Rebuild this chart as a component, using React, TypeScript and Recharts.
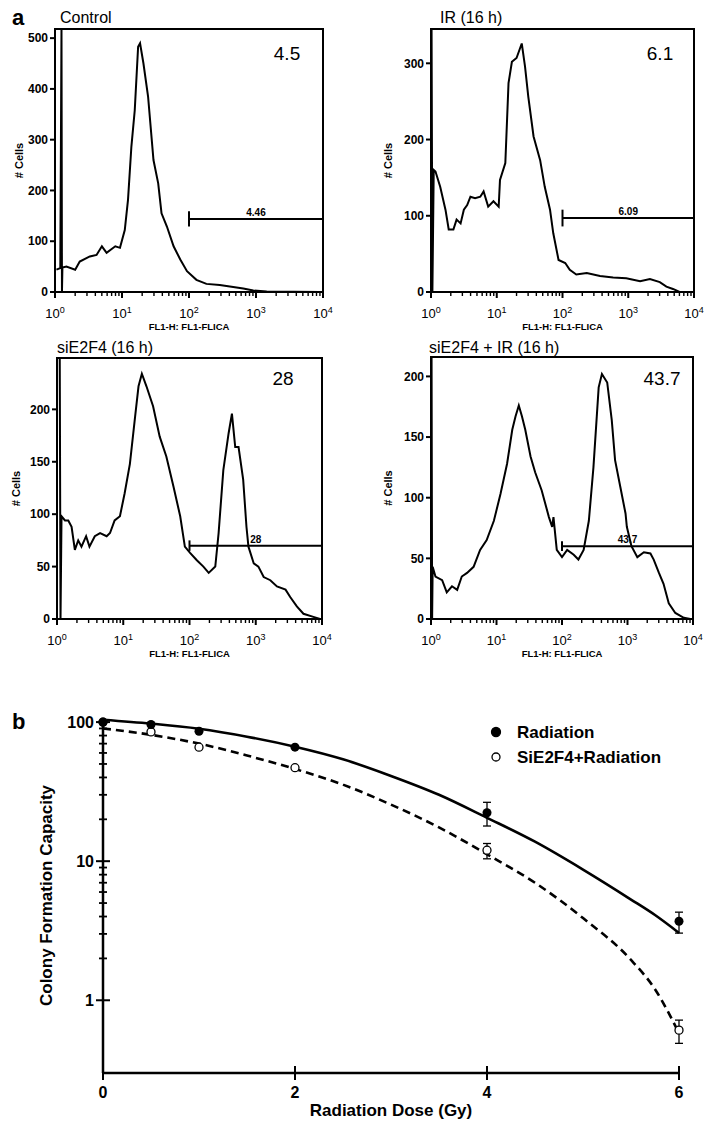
import React from "react";
import {
  LineChart,
  ComposedChart,
  Line,
  Scatter,
  ErrorBar,
  XAxis,
  YAxis,
  ReferenceArea,
  ReferenceLine,
  ReferenceDot,
  Label,
} from "recharts";

const FONT = "'Liberation Sans', Arial, Helvetica, sans-serif";

// ---- panel a: FL1-FLICA histograms (channel value, # cells) ----
const controlChannel = [1.05, 1.2, 1.25, 1.27, 1.29, 1.48, 2.0, 2.34, 3.31, 4.17, 5.01, 5.89, 7.94, 9.33, 11.0, 12.3, 13.8, 15.5, 17.4, 18.6, 20.9, 24.5, 29.5, 34.7, 38.9, 46.8, 58.9, 74.1, 93.3, 129, 182, 288, 457, 646, 912, 1445, 9120];
const controlCells = [44, 47, 518, 0, 48, 50, 44, 60, 70, 73, 90, 77, 90, 87, 122, 182, 286, 358, 483, 490, 450, 385, 260, 214, 155, 129, 90, 64, 41, 24, 16, 14, 10, 7, 3, 1, 0];

const irChannel = [1.02, 1.05, 1.1, 1.17, 1.38, 1.66, 1.86, 2.19, 2.45, 2.82, 3.16, 3.55, 3.98, 4.68, 5.62, 6.31, 7.41, 8.91, 10.7, 11.2, 13.5, 15.1, 17.0, 20.0, 24.0, 26.9, 30.2, 36.3, 45.7, 53.7, 64.6, 72.4, 87.1, 110, 129, 162, 234, 372, 589, 933, 1514, 2138, 3020, 3802, 4786, 6026, 9120];
const irCells = [345, 0, 160, 158, 138, 108, 82, 82, 95, 90, 108, 114, 125, 123, 125, 132, 112, 119, 112, 147, 169, 274, 302, 307, 326, 296, 256, 204, 173, 138, 108, 77, 42, 38, 29, 23, 25, 21, 19, 18, 14, 17, 13, 7, 4, 0, 0];

const siChannel = [1.1, 1.13, 1.17, 1.32, 1.48, 1.66, 1.86, 2.09, 2.34, 2.75, 3.09, 3.72, 4.47, 5.62, 6.31, 7.41, 8.91, 10.5, 12.6, 15.1, 17.0, 19.1, 22.4, 28.2, 35.5, 44.7, 57.5, 72.4, 85.1, 102, 129, 162, 195, 245, 275, 324, 389, 437, 490, 550, 646, 724, 776, 933, 1096, 1318, 1660, 2089, 2818, 3311, 4169, 5248, 7413, 9333];
const siCells = [249, 0, 98, 94, 94, 88, 66, 75, 69, 79, 69, 79, 82, 79, 82, 94, 98, 120, 148, 193, 222, 234, 222, 203, 174, 155, 126, 98, 69, 63, 56, 50, 44, 50, 82, 142, 177, 196, 164, 164, 133, 88, 69, 53, 50, 40, 37, 31, 28, 21, 12, 5, 2, 0];

const siIrChannel = [1.02, 1.04, 1.06, 1.17, 1.48, 1.74, 2.09, 2.51, 2.95, 3.55, 4.47, 5.62, 7.08, 9.12, 11.5, 14.5, 17.4, 19.5, 21.9, 24.5, 27.5, 33.1, 38.9, 49.0, 63.1, 70.8, 74.1, 83.2, 100, 120, 151, 178, 214, 257, 302, 363, 407, 490, 575, 646, 776, 933, 977, 1150, 1413, 1778, 2239, 2512, 3020, 3548, 4266, 5370, 7244, 9120];
const siIrCells = [216, 0, 43, 35, 32, 22, 27, 24, 35, 38, 43, 57, 65, 81, 103, 128, 156, 167, 176, 167, 156, 134, 121, 106, 84, 76, 84, 57, 51, 57, 53, 49, 57, 81, 125, 191, 202, 195, 164, 131, 109, 87, 76, 60, 51, 55, 54, 49, 38, 29, 13, 5, 1, 0];

const panelTitles = ["Control", "IR (16 h)", "siE2F4 (16 h)", "siE2F4 + IR (16 h)"];
const apoptoticPct = ["4.5", "6.1", "28", "43.7"];
const gateLabels = ["4.46", "6.09", "28", "43.7"];
const gateLevels = [144, 97, 70, 60];
const gateRange = [100, 10000];
const countMax = [518, 345, 249, 216];
const countTicks = [
  [0, 100, 200, 300, 400, 500],
  [0, 100, 200, 300],
  [0, 50, 100, 150, 200],
  [0, 50, 100, 150, 200],
];
const flTicks = [1, 2, 3, 4, 5, 6, 7, 8, 9, 10, 20, 30, 40, 50, 60, 70, 80, 90, 100, 200, 300, 400, 500, 600, 700, 800, 900, 1000, 2000, 3000, 4000, 5000, 6000, 7000, 8000, 9000, 10000];
const decadeExponent: Record<number, string> = { 1: "0", 10: "1", 100: "2", 1000: "3", 10000: "4" };

// ---- panel b: colony formation ----
const doses = [0, 0.5, 1, 2, 4, 6];
const radiationSurvival = [100, 96, 86, 66, 22.3, 3.7];
const radiationErrLow = [0, 0, 0, 0, 4.4, 0.66];
const radiationErrHigh = [0, 0, 0, 0, 4.2, 0.6];
const sie2f4Survival = [100, 85, 66, 47, 12, 0.61];
const sie2f4ErrLow = [0, 0, 0, 0, 1.6, 0.12];
const sie2f4ErrHigh = [0, 0, 0, 0, 1.4, 0.11];
const fitDose = [0, 0.5, 1, 1.5, 2, 2.5, 3, 3.5, 4, 4.5, 5, 5.5, 5.75, 6];
const radiationFit = [104, 97.5, 89.5, 78.5, 66.5, 54, 41, 30, 20.5, 13.8, 8.7, 5.3, 4.1, 3.05];
const sie2f4Fit = [90, 81, 70, 57.5, 46, 35.5, 25.5, 17.5, 11.2, 7, 3.9, 1.95, 1.2, 0.58];
const doseTicks = [0, 2, 4, 6];
const survivalTicks = [1, 2, 3, 4, 5, 6, 7, 8, 9, 10, 20, 30, 40, 50, 60, 70, 80, 90, 100];
const seriesNames = ["Radiation", "SiE2F4+Radiation"];

function FlTick(props: any) {
  const { x, y, payload } = props;
  const exp = decadeExponent[payload.value];
  const major = exp !== undefined;
  return (
    <g>
      <line x1={x} x2={x} y1={y} y2={y + (major ? 6 : 4)} stroke="#000" strokeWidth={major ? 2 : 1.4} />
      {major && (
        <text x={x} y={y + 26} textAnchor="middle" fontSize={13} fontFamily={FONT} fill="#000">
          10
          <tspan dy={-5} fontSize={9}>
            {exp}
          </tspan>
        </text>
      )}
    </g>
  );
}

interface HistProps {
  plotLeft: number;
  plotTop: number;
  plotW: number;
  plotH: number;
  channel: number[];
  cells: number[];
  idx: number;
  labelGap: number;
  gateCap: number;
}

function Histogram({ plotLeft, plotTop, plotW, plotH, channel, cells, idx, labelGap, gateCap }: HistProps) {
  const rows = channel.map((ch, i) => ({ ch, v: cells[i] }));
  const gate = gateLevels[idx];
  const gateRows = gateRange.map((ch) => ({ ch, v: gate }));
  const yMax = countMax[idx];
  const width = 55 + plotW + 12;
  const height = 29 + plotH + 45;
  return (
    <div style={{ position: "absolute", left: plotLeft - 55, top: plotTop - 29 }}>
      <LineChart width={width} height={height} margin={{ top: 29, right: 12, left: 15, bottom: 0 }}>
        <XAxis
          dataKey="ch"
          type="number"
          scale="log"
          domain={[1, 10000]}
          ticks={flTicks}
          interval={0}
          tick={<FlTick />}
          tickLine={false}
          axisLine={false}
          tickSize={0}
          tickMargin={0}
          height={45}
        >
          <Label
            content={(p: any) => {
              const vb = p.viewBox;
              return (
                <text x={vb.x + vb.width / 2} y={vb.y + 38} textAnchor="middle" fontSize={9.5} fontWeight="bold" fontFamily={FONT} fill="#000">
                  FL1-H: FL1-FLICA
                </text>
              );
            }}
          />
        </XAxis>
        <YAxis
          type="number"
          domain={[0, yMax]}
          ticks={countTicks[idx]}
          interval={0}
          width={40}
          axisLine={false}
          tickSize={5}
          tickMargin={2}
          tickLine={{ stroke: "#000", strokeWidth: 2 }}
          tick={{ fontSize: 12, fontWeight: "bold", fill: "#000", fontFamily: FONT }}
        >
          <Label
            content={(p: any) => {
              const vb = p.viewBox;
              const cx = vb.x + vb.width - labelGap;
              const cy = vb.y + vb.height / 2;
              return (
                <text x={cx} y={cy} transform={`rotate(-90 ${cx} ${cy})`} textAnchor="middle" dominantBaseline="central" fontSize={11} fontWeight="bold" fontFamily={FONT} fill="#000">
                  # Cells
                </text>
              );
            }}
          />
        </YAxis>
        <ReferenceArea x1={1} x2={10000} y1={0} y2={yMax} fill="none" stroke="#000" strokeWidth={2} />
        <Line data={rows} dataKey="v" type="linear" stroke="#000" strokeWidth={2} dot={false} isAnimationActive={false} />
        <Line data={gateRows} dataKey="v" type="linear" stroke="#000" strokeWidth={2} dot={false} isAnimationActive={false} />
        <ReferenceLine
          segment={[
            { x: gateRange[0], y: gate - gateCap },
            { x: gateRange[0], y: gate + gateCap },
          ]}
          stroke="#000"
          strokeWidth={2}
        />
        <ReferenceDot
          x={1000}
          y={gate}
          r={0}
          fill="none"
          stroke="none"
          label={{ value: gateLabels[idx], position: "top", offset: 3, fontSize: 10, fontWeight: "bold", fill: "#000", fontFamily: FONT }}
        />
      </LineChart>
    </div>
  );
}

function SurvivalTick(props: any) {
  const { x, y, payload } = props;
  const v = payload.value;
  const major = v === 1 || v === 10 || v === 100;
  return (
    <g>
      <line x1={x - (major ? 7 : 4)} x2={x + (major ? 7 : 4)} y1={y} y2={y} stroke="#000" strokeWidth={major ? 2 : 1.8} />
      {major && (
        <text x={x - 9} y={y + 5.5} textAnchor="end" fontSize={16} fontWeight="bold" fontFamily={FONT} fill="#000">
          {v}
        </text>
      )}
    </g>
  );
}

function DoseTick(props: any) {
  const { x, y, payload } = props;
  return (
    <g>
      <line x1={x} x2={x} y1={y - 7} y2={y + 7} stroke="#000" strokeWidth={2} />
      <text x={x} y={y + 25} textAnchor="middle" fontSize={16} fontWeight="bold" fontFamily={FONT} fill="#000">
        {payload.value}
      </text>
    </g>
  );
}

function SurvivalChart() {
  const radRows = doses.map((dose, i) => ({
    dose,
    v: radiationSurvival[i],
    err: radiationErrLow[i] > 0 ? [radiationErrLow[i], radiationErrHigh[i]] : null,
  }));
  const siRows = doses.map((dose, i) => ({
    dose,
    v: sie2f4Survival[i],
    err: sie2f4ErrLow[i] > 0 ? [sie2f4ErrLow[i], sie2f4ErrHigh[i]] : null,
  }));
  const radFitRows = fitDose.map((dose, i) => ({ dose, v: radiationFit[i] }));
  const siFitRows = fitDose.map((dose, i) => ({ dose, v: sie2f4Fit[i] }));
  return (
    <div style={{ position: "absolute", left: 0, top: 690 }}>
      <ComposedChart width={714} height={441} margin={{ top: 28, right: 35, left: 43, bottom: 18 }}>
        <XAxis
          dataKey="dose"
          type="number"
          domain={[0, 6]}
          ticks={doseTicks}
          interval={0}
          tick={<DoseTick />}
          tickLine={false}
          tickSize={0}
          tickMargin={0}
          height={40}
          axisLine={{ stroke: "#000", strokeWidth: 2.5 }}
        >
          <Label
            content={(p: any) => {
              const vb = p.viewBox;
              return (
                <text x={vb.x + vb.width / 2} y={vb.y + 43} textAnchor="middle" fontSize={17} fontWeight="bold" fontFamily={FONT} fill="#000">
                  Radiation Dose (Gy)
                </text>
              );
            }}
          />
        </XAxis>
        <YAxis
          dataKey="v"
          type="number"
          scale="log"
          domain={[0.3, 107]}
          ticks={survivalTicks}
          interval={0}
          width={60}
          tick={<SurvivalTick />}
          tickLine={false}
          tickSize={0}
          tickMargin={0}
          axisLine={{ stroke: "#000", strokeWidth: 2.5 }}
        >
          <Label
            content={(p: any) => {
              const vb = p.viewBox;
              const cx = vb.x + 3;
              const cy = vb.y + vb.height / 2;
              return (
                <text x={cx} y={cy} transform={`rotate(-90 ${cx} ${cy})`} textAnchor="middle" dominantBaseline="central" fontSize={17} fontWeight="bold" fontFamily={FONT} fill="#000">
                  Colony Formation Capacity
                </text>
              );
            }}
          />
        </YAxis>
        <Line data={radFitRows} dataKey="v" type="monotone" stroke="#000" strokeWidth={2.6} dot={false} isAnimationActive={false} />
        <Line data={siFitRows} dataKey="v" type="monotone" stroke="#000" strokeWidth={2.6} strokeDasharray="8 5" dot={false} isAnimationActive={false} />
        <Scatter
          name={seriesNames[1]}
          data={siRows}
          dataKey="v"
          isAnimationActive={false}
          shape={(p: any) => <circle cx={p.cx} cy={p.cy} r={4} fill="#fff" stroke="#000" strokeWidth={1.3} />}
        >
          <ErrorBar dataKey="err" direction="y" width={4} stroke="#000" strokeWidth={1.3} />
        </Scatter>
        <Scatter
          name={seriesNames[0]}
          data={radRows}
          dataKey="v"
          isAnimationActive={false}
          shape={(p: any) => <circle cx={p.cx} cy={p.cy} r={4.5} fill="#000" />}
        >
          <ErrorBar dataKey="err" direction="y" width={4} stroke="#000" strokeWidth={1.3} />
        </Scatter>
      </ComposedChart>
    </div>
  );
}

function Txt({ x, y, size, bold, center, children }: any) {
  return (
    <div
      style={{
        position: "absolute",
        left: x,
        top: y,
        transform: center ? "translate(-50%, -50%)" : "translateY(-50%)",
        fontSize: size,
        fontWeight: bold ? "bold" : "normal",
        lineHeight: 1,
        whiteSpace: "nowrap",
        color: "#000",
      }}
    >
      {children}
    </div>
  );
}

function LegendItem({ y, filled, name }: any) {
  return (
    <>
      <svg style={{ position: "absolute", left: 490, top: y - 6 }} width={12} height={12}>
        <circle cx={6} cy={6} r={filled ? 4.5 : 4} fill={filled ? "#000" : "#fff"} stroke="#000" strokeWidth={1.3} />
      </svg>
      <Txt x={517} y={y} size={17} bold>
        {name}
      </Txt>
    </>
  );
}

export default function App() {
  return (
    <div style={{ position: "absolute", left: 0, top: 0, width: 714, height: 1131, background: "#fff", fontFamily: FONT }}>
      <Histogram plotLeft={55} plotTop={29} plotW={268} plotH={263} channel={controlChannel} cells={controlCells} idx={0} labelGap={36} gateCap={15} />
      <Histogram plotLeft={431} plotTop={29} plotW={263} plotH={263} channel={irChannel} cells={irCells} idx={1} labelGap={43} gateCap={11} />
      <Histogram plotLeft={57} plotTop={358} plotW={265} plotH={261} channel={siChannel} cells={siCells} idx={2} labelGap={41} gateCap={5} />
      <Histogram plotLeft={431} plotTop={357} plotW={262} plotH={262} channel={siIrChannel} cells={siIrCells} idx={3} labelGap={43} gateCap={4} />

      <Txt x={12} y={18} size={22} bold>a</Txt>
      <Txt x={60} y={18} size={16}>{panelTitles[0]}</Txt>
      <Txt x={440} y={18} size={16}>{panelTitles[1]}</Txt>
      <Txt x={57} y={348} size={16}>{panelTitles[2]}</Txt>
      <Txt x={429} y={348} size={16}>{panelTitles[3]}</Txt>
      <Txt x={287} y={53} size={19} center>{apoptoticPct[0]}</Txt>
      <Txt x={660} y={53} size={19} center>{apoptoticPct[1]}</Txt>
      <Txt x={283} y={378} size={19} center>{apoptoticPct[2]}</Txt>
      <Txt x={662} y={378} size={19} center>{apoptoticPct[3]}</Txt>

      <SurvivalChart />
      <Txt x={12} y={722} size={22} bold>b</Txt>
      <LegendItem y={732} filled name={seriesNames[0]} />
      <LegendItem y={757} filled={false} name={seriesNames[1]} />
    </div>
  );
}
